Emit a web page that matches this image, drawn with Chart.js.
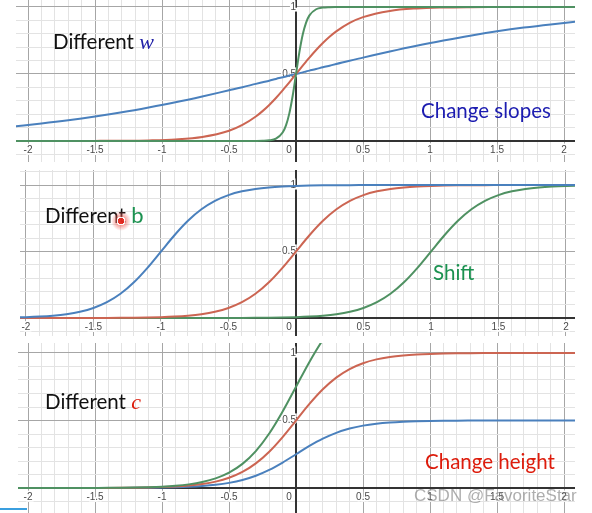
<!DOCTYPE html>
<html>
<head>
<meta charset="utf-8">
<script src="https://cdn.jsdelivr.net/npm/chart.js@4.4.1/dist/chart.umd.min.js"></script>
<style>
  html, body { margin: 0; padding: 0; background: #fff; }
  body { width: 592px; height: 513px; position: relative; overflow: hidden; }
  canvas { position: absolute; }
  .note { position: absolute; font-family: Lato, "Open Sans", sans-serif; font-size: 20.5px; line-height: 24px; color: #111; white-space: nowrap; }
  .math { font-family: "Liberation Serif", "DejaVu Serif", serif; font-style: italic; font-size: 22px; }
  .mark { position: absolute; font-family: "Liberation Sans", Arial, sans-serif; font-size: 17px; color: rgba(120,120,120,0.6); white-space: nowrap; }
</style>
</head>
<body>
<canvas id="slopes" width="559" height="162" style="left:16px;top:0px;width:559px;height:162px"></canvas>
<canvas id="shifts" width="555" height="166" style="left:20px;top:170px;width:555px;height:166px"></canvas>
<canvas id="heights" width="557" height="170" style="left:18px;top:343px;width:557px;height:170px"></canvas>

<div class="note" style="left:53px;top:29px">Different <span class="math" style="color:#2323a8">w</span></div>
<div class="note" style="left:421px;top:98px;color:#1c1cb0">Change slopes</div>
<div class="note" style="left:45px;top:203px">Different <span style="color:#1b9150;font-size:22px">b</span></div>
<div class="note" style="left:433px;top:260px;color:#1b9150">Shift</div>
<div class="note" style="left:45px;top:389px">Different <span class="math" style="color:#dd1c0c">c</span></div>
<div class="note" style="left:425px;top:449px;color:#dd1c0c">Change height</div>
<div class="mark" style="left:414px;top:486px">CSDN @FavoriteStar</div>
<div style="position:absolute;left:111px;top:211px;width:20px;height:20px;border-radius:50%;background:radial-gradient(circle, rgba(230,40,30,0.95) 0 22%, rgba(255,255,255,0.9) 23% 30%, rgba(240,90,80,0.55) 32%, rgba(255,160,150,0) 70%)"></div>
<div style="position:absolute;left:0;top:508px;width:27px;height:2px;background:#3a9fdf"></div>

<script>
// top panel: sigma(w x) for three slopes
const xsSlope = [-2.1, -1.9, -1.7, -1.5, -1.3, -1.1, -0.9, -0.7, -0.5, -0.4, -0.3, -0.25, -0.2, -0.15, -0.1, -0.075, -0.05, -0.025,
  0, 0.025, 0.05, 0.075, 0.1, 0.15, 0.2, 0.25, 0.3, 0.4, 0.5, 0.7, 0.9, 1.1, 1.3, 1.5, 1.7, 1.9, 2.1];
const slopeBlue = [0.109, 0.130, 0.154, 0.182, 0.214, 0.250, 0.289, 0.332, 0.378, 0.401, 0.426, 0.438, 0.450, 0.463, 0.475, 0.481, 0.488, 0.494,
  0.5, 0.506, 0.512, 0.519, 0.525, 0.537, 0.550, 0.562, 0.574, 0.599, 0.622, 0.668, 0.711, 0.750, 0.786, 0.818, 0.846, 0.870, 0.891];
const slopeRed = [0, 0.0001, 0.0002, 0.0006, 0.0015, 0.0041, 0.0110, 0.0293, 0.0759, 0.1192, 0.1824, 0.2227, 0.2689, 0.3208, 0.3775, 0.4073, 0.4378, 0.4688,
  0.5, 0.5312, 0.5622, 0.5927, 0.6225, 0.6792, 0.7311, 0.7773, 0.8176, 0.8808, 0.9241, 0.9707, 0.9890, 0.9959, 0.9985, 0.9994, 0.9998, 0.9999, 1];
const slopeGreen = [0, 0, 0, 0, 0, 0, 0, 0, 0, 0, 0.0003, 0.0012, 0.0045, 0.0171, 0.0630, 0.1166, 0.2059, 0.3374,
  0.5, 0.6626, 0.7941, 0.8834, 0.9370, 0.9829, 0.9955, 0.9988, 0.9997, 1, 1, 1, 1, 1, 1, 1, 1, 1, 1];

// middle and bottom panels share these x positions
const xsStep = [-2.1, -2.0, -1.9, -1.8, -1.7, -1.6, -1.5, -1.4, -1.3, -1.2, -1.1, -1.0, -0.9, -0.8, -0.7, -0.6, -0.5, -0.4, -0.3, -0.2, -0.1,
  0, 0.1, 0.2, 0.3, 0.4, 0.5, 0.6, 0.7, 0.8, 0.9, 1.0, 1.1, 1.2, 1.3, 1.4, 1.5, 1.6, 1.7, 1.8, 1.9, 2.0, 2.1];

// middle panel: different b
const shiftBlue = [0.0041, 0.0067, 0.0110, 0.0180, 0.0293, 0.0474, 0.0759, 0.1192, 0.1824, 0.2689, 0.3775, 0.5, 0.6225, 0.7311, 0.8176, 0.8808,
  0.9241, 0.9526, 0.9707, 0.9820, 0.9890, 0.9933, 0.9959, 0.9975, 0.9985, 0.9991, 0.9994, 0.9997, 0.9998, 0.9999, 0.9999,
  1, 1, 1, 1, 1, 1, 1, 1, 1, 1, 1, 1];
const shiftRed = [0, 0, 0.0001, 0.0001, 0.0002, 0.0003, 0.0006, 0.0009, 0.0015, 0.0025, 0.0041, 0.0067, 0.0110, 0.0180, 0.0293, 0.0474, 0.0759,
  0.1192, 0.1824, 0.2689, 0.3775, 0.5, 0.6225, 0.7311, 0.8176, 0.8808, 0.9241, 0.9526, 0.9707, 0.9820, 0.9890, 0.9933, 0.9959, 0.9975,
  0.9985, 0.9991, 0.9994, 0.9997, 0.9998, 0.9999, 0.9999, 1, 1];
const shiftGreen = [0, 0, 0, 0, 0, 0, 0, 0, 0, 0, 0, 0, 0.0001, 0.0001, 0.0002, 0.0003, 0.0006, 0.0009, 0.0015, 0.0025, 0.0041, 0.0067, 0.0110,
  0.0180, 0.0293, 0.0474, 0.0759, 0.1192, 0.1824, 0.2689, 0.3775, 0.5, 0.6225, 0.7311, 0.8176, 0.8808, 0.9241, 0.9526, 0.9707, 0.9820,
  0.9890, 0.9933, 0.9959];

// bottom panel: different c
const heightBlue = [0, 0, 0.0001, 0.0001, 0.0001, 0.0002, 0.0003, 0.0005, 0.0008, 0.0013, 0.0021, 0.0034, 0.0055, 0.0090, 0.0147, 0.0237, 0.0380,
  0.0596, 0.0912, 0.1345, 0.1888, 0.25, 0.3113, 0.3656, 0.4088, 0.4404, 0.4621, 0.4763, 0.4854, 0.4910, 0.4945, 0.4967, 0.4980, 0.4988,
  0.4993, 0.4996, 0.4997, 0.4999, 0.4999, 0.5, 0.5, 0.5, 0.5];
const heightRed = shiftRed;
const heightGreen = [0, 0, 0.0002, 0.0002, 0.0003, 0.0005, 0.0009, 0.0014, 0.0023, 0.0038, 0.0062, 0.0101, 0.0165, 0.0270, 0.0440, 0.0711, 0.1139,
  0.1788, 0.2736, 0.4034, 0.5663, 0.75, 0.9338, 1.0967, 1.2264, 1.3212, 1.3862, 1.4289, 1.4561, 1.4730, 1.4835, 1.4900, 1.4939, 1.4963,
  1.4978, 1.4987, 1.4991, 1.4996, 1.4997, 1.4999, 1.4999, 1.5, 1.5];

const xTickLabels = ['-2', '-1.5', '-1', '-0.5', '0', '0.5', '1', '1.5', '2'];
const yTickLabels = ['0.5', '1'];

const blue = '#4a80bd';
const red = '#cc6552';
const green = '#4f9162';

function findLabel(list, v) {
  const hit = list.find(t => Math.abs(Number(t) - v) < 1e-6);
  return hit === undefined ? '' : hit;
}

function isMajor(v) {
  return Math.abs(v * 2 - Math.round(v * 2)) < 1e-6;
}

// axes sit inside the plot, so they should not shrink it
function noPadding(scale) {
  scale.paddingTop = 0;
  scale.paddingBottom = 0;
  scale.paddingLeft = 0;
  scale.paddingRight = 0;
}

// one Desmos-like panel: axes crossing at the origin, 0.1 minor grid, 0.5 major grid
// (first series in the list ends up drawn on top)
function drawPanel(id, xs, series, xr, yr) {
  const tickFont = { family: '"Liberation Sans", Arial, sans-serif', size: 10 };
  const gridColor = ctx => (ctx.tick && isMajor(ctx.tick.value)) ? '#a6a6a6' : '#e3e3e3';
  const labelStyle = { font: tickFont, color: '#4a4a4a', textStrokeColor: '#fff', textStrokeWidth: 3 };

  new Chart(document.getElementById(id), {
    type: 'line',
    data: {
      datasets: series.map(s => ({
        data: xs.map((x, i) => ({ x: x, y: s.values[i] })),
        borderColor: s.color,
        borderWidth: 2,
        pointRadius: 0,
        cubicInterpolationMode: 'monotone',
        fill: false
      }))
    },
    options: {
      responsive: false,
      animation: false,
      events: [],
      layout: { padding: 0 },
      plugins: { legend: { display: false }, tooltip: { enabled: false } },
      scales: {
        x: {
          type: 'linear', min: xr[0], max: xr[1], position: { y: 0 },
          afterFit: noPadding,
          grid: { color: gridColor, lineWidth: 1, drawTicks: false },
          border: { color: '#333', width: 2 },
          ticks: Object.assign({
            stepSize: 0.1, includeBounds: false, autoSkip: false, maxRotation: 0, maxTicksLimit: 100, padding: 3,
            callback: v => Math.abs(v) < 1e-9 ? '' : findLabel(xTickLabels, v)
          }, labelStyle)
        },
        // only carries the "0" label, nudged left of the vertical axis
        x0: {
          type: 'linear', axis: 'x', min: xr[0], max: xr[1], position: { y: 0 },
          afterFit: noPadding,
          grid: { display: false, drawTicks: false },
          border: { display: false },
          ticks: Object.assign({
            stepSize: 0.5, includeBounds: false, autoSkip: false, maxRotation: 0, padding: 3, labelOffset: -7,
            callback: v => Math.abs(v) < 1e-9 ? findLabel(xTickLabels, 0) : ''
          }, labelStyle)
        },
        y: {
          type: 'linear', min: yr[0], max: yr[1], position: { x: 0 },
          afterFit: noPadding,
          grid: { color: gridColor, lineWidth: 1, drawTicks: false },
          border: { color: '#333', width: 2 },
          ticks: Object.assign({
            stepSize: 0.1, includeBounds: false, autoSkip: false, maxTicksLimit: 100, padding: 3,
            callback: v => findLabel(yTickLabels, v)
          }, labelStyle)
        }
      }
    }
  });
}

drawPanel('slopes', xsSlope, [
  { values: slopeGreen, color: green },
  { values: slopeRed, color: red },
  { values: slopeBlue, color: blue }
], [-2.09, 2.082], [-0.157, 1.052]);

drawPanel('shifts', xsStep, [
  { values: shiftBlue, color: blue },
  { values: shiftRed, color: red },
  { values: shiftGreen, color: green }
], [-2.044, 2.067], [-0.135, 1.113]);

drawPanel('heights', xsStep, [
  { values: heightGreen, color: green },
  { values: heightRed, color: red },
  { values: heightBlue, color: blue }
], [-2.075, 2.082], [-0.185, 1.074]);
</script>
</body>
</html>
